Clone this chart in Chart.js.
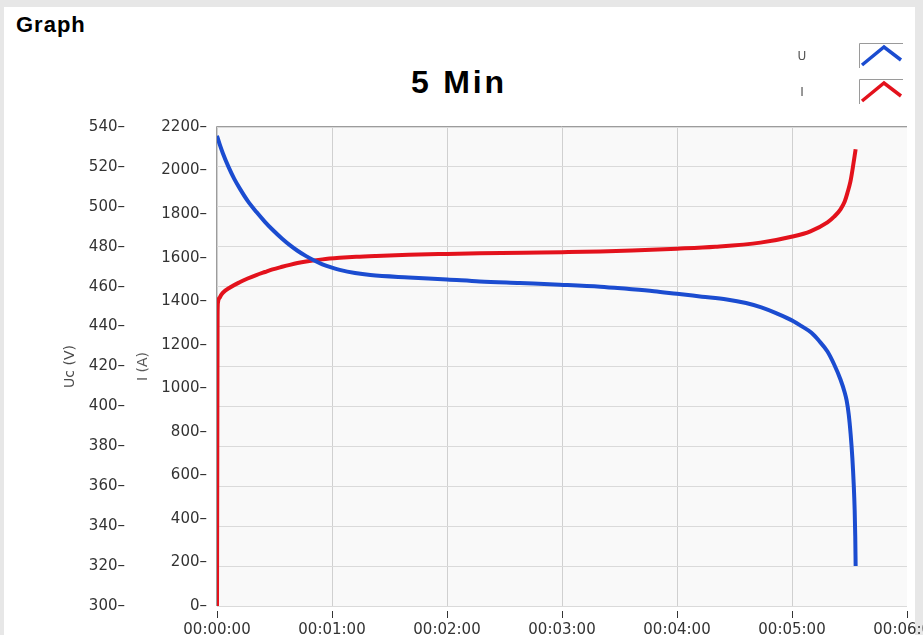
<!DOCTYPE html>
<html>
<head>
<meta charset="utf-8">
<script src="https://cdn.jsdelivr.net/npm/chart.js@4.4.1/dist/chart.umd.min.js"></script>
<style>
  html, body { margin: 0; padding: 0; width: 923px; height: 635px; overflow: hidden; background: #e7e7e7; }
  #panel { position: absolute; left: 4px; top: 7px; width: 911px; height: 640px; background: #fff; }
  #chart { position: absolute; left: 0; top: 0; }
  .lbl { position: absolute; font-family: "Liberation Sans", Arial, sans-serif; font-weight: bold; color: #000; white-space: nowrap; line-height: normal; }
  #graph { left: 16px; top: 12px; font-size: 22px; letter-spacing: 1px; }
  #title { left: 411px; top: 64px; font-size: 32px; letter-spacing: 2.8px; }
</style>
</head>
<body>
<div id="panel"></div>
<div class="lbl" id="graph">Graph</div>
<div class="lbl" id="title">5 Min</div>
<canvas id="chart" width="960" height="660"></canvas>
<script>
// time in seconds
const timeU = [0, 1.5, 3, 6, 9, 12, 16, 20.5, 25, 29, 34, 38, 42, 46.5, 51, 55, 60, 64, 72, 80,
  100, 120, 137, 158, 179, 200, 214, 228, 240, 253, 266, 276, 284, 292, 301, 305, 310, 314, 318.5, 322,
  325.3, 327.5, 328.5, 329.6, 330.6, 331.5, 332.2, 332.7, 333.0, 333.2];
const voltU = [535.6, 531, 527, 520, 514, 509, 503, 497.5, 492.5, 488.5, 484, 480.8, 478, 475.3, 473, 471.2, 469.5, 468.4, 466.8, 465.8,
  464.6, 463.6, 462.6, 461.8, 461.0, 460, 458.9, 457.7, 456.4, 455.0, 453.6, 451.8, 449.6, 446.6, 442.6, 440.2, 437, 433, 427.5, 421,
  413.5, 407, 403, 396, 386, 374, 361, 348, 335, 320];

const timeI = [0, 0.15, 0.3, 0.5, 1.5, 3, 7, 11.8, 16, 20.5, 25, 29, 34, 38, 42, 46.5, 55, 64, 72.6, 83,
  100, 120, 137, 160, 180, 200, 220, 240, 260, 283.5, 300.9, 309.6, 318.5, 322, 325.3, 327.5, 329, 330.5, 331.6, 333.2];
const currI = [0, 700, 1330, 1394, 1418, 1438, 1464, 1487, 1504, 1520, 1534, 1546, 1558, 1567, 1575, 1582, 1592, 1599, 1604, 1608,
  1613, 1617, 1620, 1623, 1625, 1628, 1634, 1641, 1650, 1669, 1698, 1721, 1762, 1788, 1822, 1858, 1900, 1950, 2006, 2098];

const xTicks = { min: 0, max: 360, step: 60 };
const uTicks = { min: 300, max: 540, step: 20 };
const iTicks = { min: 0, max: 2200, step: 200 };

const pad2 = n => String(n).padStart(2, '0');
function fmtTime(s) {
  const h = Math.floor(s / 3600), m = Math.floor((s % 3600) / 60), sec = Math.round(s % 60);
  return pad2(h) + ':' + pad2(m) + ':' + pad2(sec);
}

const tickFont = { family: 'DejaVu Sans', size: 15 };
const titleFont = { family: 'DejaVu Sans', size: 14 };

// plot background + frame (top and left edge)
const plotFrame = {
  id: 'plotFrame',
  beforeDraw(chart) {
    const { ctx, chartArea: a } = chart;
    ctx.save();
    ctx.fillStyle = '#f9f9f9';
    ctx.fillRect(a.left, a.top, a.right - a.left, a.bottom - a.top);
    ctx.restore();
  },
  beforeDatasetsDraw(chart) {
    const { ctx, chartArea: a } = chart;
    ctx.save();
    ctx.strokeStyle = '#9c9c9c';
    ctx.lineWidth = 1;
    ctx.beginPath();
    ctx.moveTo(Math.round(a.left) - 0.5, a.bottom);
    ctx.lineTo(Math.round(a.left) - 0.5, Math.round(a.top) - 0.5);
    ctx.lineTo(a.right, Math.round(a.top) - 0.5);
    ctx.stroke();
    ctx.restore();
  }
};

// LabVIEW-like plot legend, top right
const legendBox = {
  id: 'legendBox',
  afterDraw(chart) {
    const ctx = chart.ctx;
    chart.data.datasets.forEach((ds, i) => {
      const y = 43 + i * 36;
      ctx.save();
      ctx.font = '12px "DejaVu Sans"';
      ctx.fillStyle = '#555';
      ctx.textAlign = 'center';
      ctx.textBaseline = 'middle';
      ctx.fillText(ds.label, 802, y + 14);
      ctx.strokeStyle = '#9a9a9a';
      ctx.lineWidth = 1;
      ctx.beginPath();
      ctx.moveTo(859.5, y + 25);
      ctx.lineTo(859.5, y + 0.5);
      ctx.lineTo(903, y + 0.5);
      ctx.stroke();
      ctx.strokeStyle = ds.borderColor;
      ctx.lineWidth = 3.5;
      ctx.beginPath();
      ctx.moveTo(862, y + 22);
      ctx.lineTo(884, y + 4);
      ctx.lineTo(901, y + 17);
      ctx.stroke();
      ctx.restore();
    });
  }
};

new Chart(document.getElementById('chart'), {
  type: 'line',
  data: {
    datasets: [
      {
        label: 'U',
        yAxisID: 'yU',
        data: timeU.map((t, i) => ({ x: t, y: voltU[i] })),
        borderColor: '#1b4cd0',
        borderWidth: 4,
        pointRadius: 0,
        cubicInterpolationMode: 'monotone'
      },
      {
        label: 'I',
        yAxisID: 'yI',
        data: timeI.map((t, i) => ({ x: t, y: currI[i] })),
        borderColor: '#e3121c',
        borderWidth: 4,
        pointRadius: 0,
        cubicInterpolationMode: 'monotone'
      }
    ]
  },
  options: {
    responsive: false,
    animation: false,
    devicePixelRatio: 1,
    layout: { padding: { top: 127, left: 58, right: 53, bottom: 20 } },
    plugins: { legend: { display: false }, tooltip: { enabled: false }, title: { display: false } },
    scales: {
      x: {
        type: 'linear',
        min: xTicks.min, max: xTicks.max,
        ticks: { stepSize: xTicks.step, callback: v => fmtTime(v), color: '#333', font: tickFont, padding: 2, maxRotation: 0, autoSkip: false },
        grid: {
          color: c => (c.tick && c.tick.value === xTicks.max) ? 'rgba(0,0,0,0)' : '#d0d0d0',
          tickLength: 13, tickColor: '#333', tickBorderDash: [0, 5, 7, 30]
        },
        border: { display: false },
        afterFit(s) { s.height = 34; }
      },
      yU: {
        position: 'left',
        weight: 1,
        min: uTicks.min, max: uTicks.max,
        ticks: { stepSize: uTicks.step, callback: v => v + '–', color: '#333', font: tickFont, padding: 3 },
        grid: { color: '#dadada', drawTicks: false },
        border: { display: false },
        title: { display: true, text: 'Uc (V)', color: '#4a4a4a', font: titleFont, padding: { top: 4, bottom: 0 } },
        afterFit(s) { s.width = 70; }
      },
      yI: {
        position: 'left',
        weight: 0,
        min: iTicks.min, max: iTicks.max,
        ticks: { stepSize: iTicks.step, callback: v => v + '–', color: '#333', font: tickFont, padding: 10 },
        grid: { drawOnChartArea: false, drawTicks: false },
        border: { display: false },
        title: { display: true, text: 'I (A)', color: '#5a5a5a', font: titleFont, padding: { top: 7, bottom: 0 } },
        afterFit(s) { s.width = 89; }
      }
    }
  },
  plugins: [plotFrame, legendBox]
});
</script>
</body>
</html>
